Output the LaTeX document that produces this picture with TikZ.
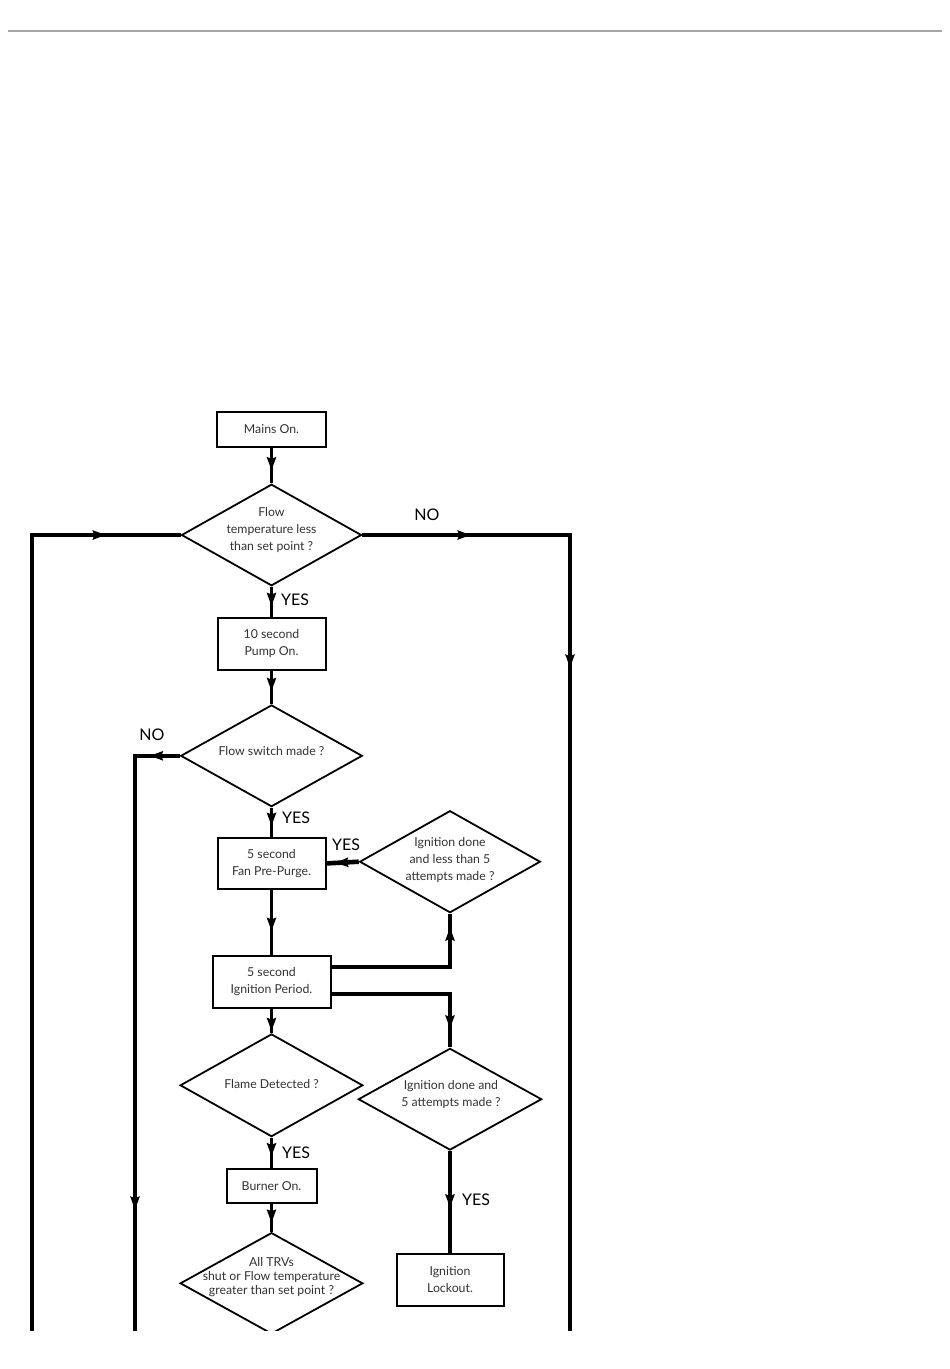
\documentclass[tikz,border=0pt]{standalone}
\usepackage{fontspec}
\setmainfont{Lato}
\usetikzlibrary{shapes.geometric,arrows.meta,decorations.markings}
\tikzset{
  >={Stealth[length=13pt,width=9pt,inset=1.5pt]},
  box/.style={draw, rectangle, line width=2pt, inner sep=0pt, align=center,
    font=\fontsize{12.3}{17}\selectfont, text=black!80},
  dia/.style={draw, diamond, line width=1.8pt, inner sep=0pt},
  dtxt/.style={align=center, inner sep=0pt, font=\fontsize{12.3}{17}\selectfont, text=black!80},
  lab/.style={inner sep=0pt, font=\fontsize{16}{19}\selectfont, text=black},
  conn/.style={line width=3.4pt},
  arr/.style={postaction={decorate}, decoration={markings, mark=at position #1 with {\arrow{>}}}},
  arrs/.style 2 args={postaction={decorate}, decoration={markings,
     mark=at position #1 with {\arrow{>}}, mark=at position #2 with {\arrow{>}}}},
}
\begin{document}
\begin{tikzpicture}[x=1pt,y=-1pt]
\useasboundingbox (0,0) rectangle (950,1369);
\fill[white] (0,0) rectangle (950,1369);
\draw[gray!70, line width=1.3pt] (8,31) -- (942,31);
\begin{scope}
\clip (0,0) rectangle (950,1330);
% boxes
\node[box, minimum width=109pt, minimum height=35pt] (mains) at (271.5,429.5) {Mains On.};
\node[box, minimum width=108pt, minimum height=52pt] (pump) at (271.5,644) {10 second\\Pump On.};
\node[box, minimum width=108pt, minimum height=51pt] (fan) at (271.5,863.4) {5 second\\Fan Pre-Purge.};
\node[box, minimum width=118pt, minimum height=52pt] (ign) at (271.5,981.5) {5 second\\Ignition Period.};
\node[box, minimum width=90pt, minimum height=34pt] (burner) at (271.5,1186.3) {Burner On.};
\node[box, minimum width=107pt, minimum height=52pt] (lock) at (450,1279.5) {Ignition\\Lockout.};
% diamonds
\node[dia, minimum width=180pt, minimum height=101.5pt] (d1) at (271.5,535) {};
\node[dtxt] (t1) at (271.5,530.5) {Flow\\temperature less\\than set point ?};
\node[dia, minimum width=181.6pt, minimum height=101.7pt] (d2) at (271.5,755.8) {};
\node[dtxt] (t2) at (271.5,751) {Flow switch made ?};
\node[dia, minimum width=180.7pt, minimum height=102pt] (d3) at (450,861.7) {};
\node[dtxt] (t3) at (450,860) {Ignition done\\and less than 5\\attempts made ?};
\node[dia, minimum width=182.7pt, minimum height=102.7pt] (d4) at (271.5,1085.3) {};
\node[dtxt] (t4) at (271.5,1084) {Flame Detected ?};
\node[dia, minimum width=183.4pt, minimum height=101.7pt] (d5) at (450,1099.2) {};
\node[dtxt] (t5) at (451,1095) {Ignition done and\\5 attempts made ?};
\node[dia, minimum width=182.7pt, minimum height=101.3pt] (d6) at (271.5,1283.3) {};
\node[dtxt, font=\fontsize{12.3}{14}\selectfont] (t6) at (271.5,1277.5) {All TRVs\\shut or Flow temperature\\greater than set point ?};
% free ends
\coordinate (lb) at (32,1345);
\coordinate (rb) at (570,1345);
\coordinate (nb) at (135,1345);
% connectors
\draw[conn, arr=-13pt] (mains.south) -- (d1.north);
\draw[conn, arrs={108.3pt}{340.3pt}] (d1.east) -| (rb);
\draw[conn, arr=-74.7pt] (lb) |- (d1.west);
\draw[conn, arr=-11pt] (d1.south) -- (pump.north);
\draw[conn, arr=-13pt] (pump.south) -- (d2.north);
\draw[conn, arrs={30pt}{498.7pt}] (d2.west) -| (nb);
\draw[conn, arr=-11pt] (d2.south) -- (fan.north);
\draw[conn, line width=4.6pt, arr=23.7pt] (d3.west) -- (fan.east);
\draw[conn, arr=41pt] (fan.south) -- (ign.north);
\draw[conn, arr=158pt] ([yshift=14.5pt]ign.east) -| (d3.south);
\draw[conn, arr=153pt] ([yshift=-12.5pt]ign.east) -| (d5.north);
\draw[conn, arr=-2pt] (ign.south) -- (d4.north);
\draw[conn, arr=-12pt] (d4.south) -- (burner.north);
\draw[conn, arr=-9pt] (burner.south) -- (d6.north);
\draw[conn, arr=-45pt] (d5.south) -- (lock.north);
% labels
\node[lab] (no1) at (427,515) {NO};
\node[lab] (y1) at (295,600) {YES};
\node[lab] (no2) at (152,735) {NO};
\node[lab] (y2) at (296,818) {YES};
\node[lab] (y3) at (346,845) {YES};
\node[lab] (y4) at (296,1153) {YES};
\node[lab] (y5) at (476,1200) {YES};
\end{scope}
\end{tikzpicture}
\end{document}
